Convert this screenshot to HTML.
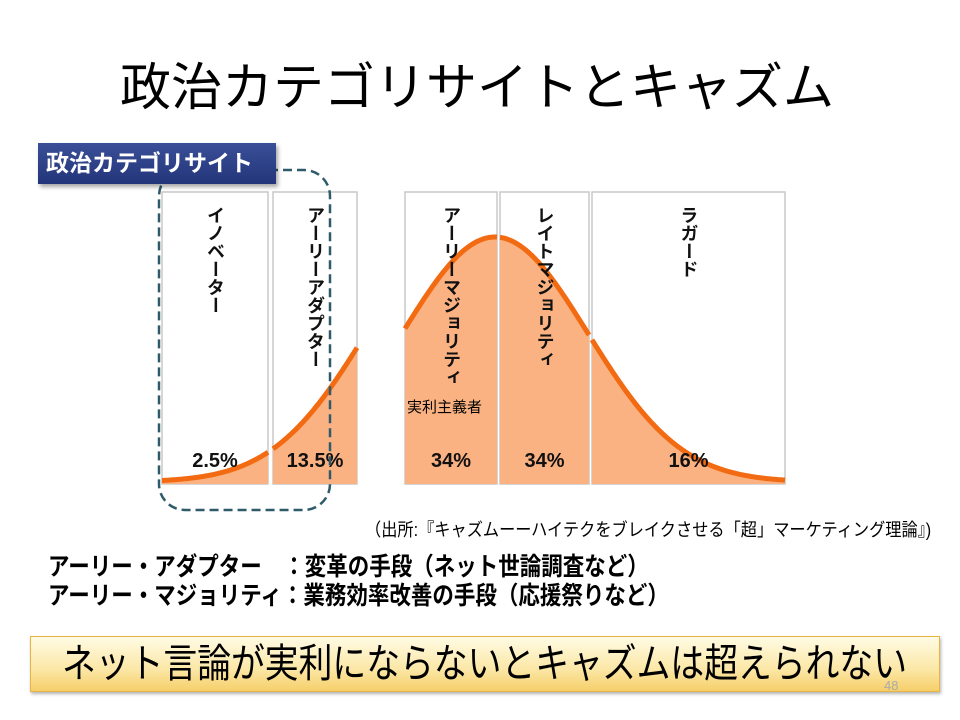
<!DOCTYPE html>
<html><head><meta charset="utf-8"><style>
html,body{margin:0;padding:0;background:#fff;}
body{width:960px;height:720px;position:relative;overflow:hidden;font-family:"Liberation Sans","Noto Sans CJK JP",sans-serif;}
.abs{position:absolute;white-space:nowrap;}
</style></head><body>
<div class="abs" style="left:120px;top:56px;font-size:51px;line-height:64px;color:#000;">政治カテゴリサイトとキャズム</div>
<svg id="chart" class="abs" style="left:0;top:0" width="960" height="720"></svg>
<div class="abs" style="left:38px;top:143px;width:238px;height:41px;background:linear-gradient(#3a4f98,#23357a);box-shadow:2px 3px 4px rgba(0,0,0,.35);color:#fff;font-weight:bold;font-size:23px;line-height:41px;text-indent:8px;">政治カテゴリサイト</div>
<div class="abs" style="left:365px;top:519px;font-size:18px;line-height:22px;transform:scaleX(0.9);transform-origin:left;">（出所:『キャズムーーハイテクをブレイクさせる「超」マーケティング理論』)</div>
<div class="abs" style="left:48px;top:553px;font-size:25px;font-weight:bold;line-height:28px;transform:scaleX(0.86);transform-origin:left;">アーリー・アダプター　：変革の手段（ネット世論調査など）</div>
<div class="abs" style="left:48px;top:582px;font-size:25px;font-weight:bold;line-height:28px;transform:scaleX(0.86);transform-origin:left;">アーリー・マジョリティ：業務効率改善の手段（応援祭りなど）</div>
<div class="abs" style="left:30px;top:636px;width:908px;height:54px;background:linear-gradient(#fffbe4,#fbe7a6 60%,#f6cf6a);border:1px solid #e6b548;box-shadow:1px 2px 3px rgba(0,0,0,.3);"></div>
<div class="abs" style="left:62px;top:640px;font-size:40px;line-height:48px;transform:scaleX(0.845);transform-origin:left;">ネット言論が実利にならないとキャズムは超えられない</div>
<div class="abs" style="left:884px;top:678px;font-size:13px;color:#aaa;">48</div>
<script>
const categories=["イノベーター","アーリーアダプター","アーリーマジョリティ","レイトマジョリティ","ラガード"];
const shares=["2.5%","13.5%","34%","34%","16%"];
const panelLeft=[162,273,405,500,592];
const panelRight=[268,357,497,589,785];
const NS="http://www.w3.org/2000/svg";
const svg=document.getElementById("chart");
const top0=192,bottom0=484,base=482,amp=245,mean=495,sigma=93,shift=36;
function yAt(x,i){const xx=i<2?x+shift:x;const z=(xx-mean)/sigma;return base-amp*Math.exp(-z*z/2);}
function mk(t,a){const e=document.createElementNS(NS,t);for(const k in a)e.setAttribute(k,a[k]);svg.appendChild(e);return e;}
categories.forEach((c,i)=>{
 const l=panelLeft[i],r=panelRight[i];
 const p=mk("rect",{x:l,y:top0,width:r-l,height:bottom0-top0,fill:"#fff",stroke:"#c8c8c8","stroke-width":1.5});
 
 
 let d="M"+l+","+bottom0;let ld="";
 for(let x=l;x<=r;x+=1){const y=yAt(x,i);d+=" L"+x+","+y.toFixed(1);ld+=(x===l?"M":" L")+x+","+y.toFixed(1);}
 d+=" L"+r+","+bottom0+" Z";
 const f=mk("path",{d:d,fill:"#fbb282"});
 
 
 const s=mk("path",{d:ld,fill:"none",stroke:"#f26b12","stroke-width":5});
 
 
 const cx=(l+r)/2;
 const lab=mk("text",{x:cx,y:206,"font-size":18,"font-weight":"bold","writing-mode":"tb","font-family":"Liberation Sans, Noto Sans CJK JP, sans-serif",fill:"#111"});
 lab.textContent=c;
 
 
 const pt=mk("text",{x:cx,y:467,"font-size":20,"font-weight":"bold","text-anchor":"middle","font-family":"Liberation Sans, sans-serif",fill:"#111"});
 pt.textContent=shares[i];
 
 
});
const t=mk("text",{x:407,y:412,"font-size":15,"font-family":"Liberation Sans, Noto Sans CJK JP, sans-serif",fill:"#000"});
t.textContent="実利主義者";


const dr=mk("rect",{x:159,y:170,width:171,height:340,rx:26,fill:"none",stroke:"#2e5a6a","stroke-width":2.5,"stroke-dasharray":"9,5"});


</script>
</body></html>
